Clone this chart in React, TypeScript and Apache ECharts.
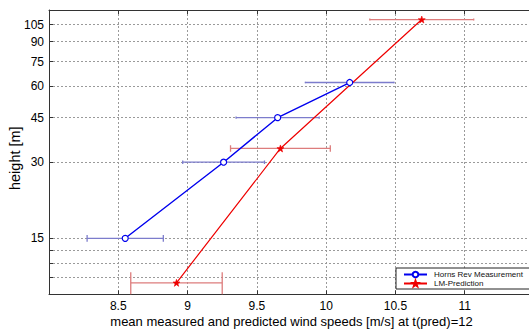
import React, { useEffect, useRef } from "react";
import * as echarts from "echarts";

// ---- data ----
const measName = "Horns Rev Measurement";
const measHeights = [15, 30, 45, 62];
const measSpeed = [8.55, 9.26, 9.65, 10.17];
const measErr = [0.275, 0.295, 0.3, 0.32];

const predName = "LM-Prediction";
const predHeights = [10, 34, 110];
const predSpeed = [8.92, 9.67, 10.69];
const predErr = [0.33, 0.36, 0.375];

const yTickLabels = [15, 30, 45, 60, 75, 90, 105];
const yMinorTicks = [10.5, 12, 13.5];
const yMin = 9;
const yMax = 120;
const xMin = 8;
const xMax = 11.5;
const xStep = 0.5;

// ---- styles ----
const FONT = "Liberation Sans, Arial, Helvetica, sans-serif";
const BLUE = "#0000ee";
const RED = "#ee0000";
const BLUE_ERR = "#7c7ccc";
const RED_ERR = "#dd7c7c";
const STAR =
  "path://M0,-10 L2.35,-3.24 L9.51,-3.09 L3.8,1.24 L5.88,8.09 L0,4 L-5.88,8.09 L-3.8,1.24 L-9.51,-3.09 L-2.35,-3.24 Z";

function errorSeries(speeds: number[], errs: number[], heights: number[], color: string) {
  const tee = (Math.max(...heights) - Math.min(...heights)) / 100;
  const data = speeds.map((s, i) => [
    s - errs[i],
    s + errs[i],
    Math.log(heights[i]),
    Math.log(heights[i] - tee),
    Math.log(heights[i] + tee),
  ]);
  return {
    type: "custom",
    silent: true,
    clip: true,
    z: 1,
    encode: { x: [0, 1], y: [2, 3, 4] },
    data,
    renderItem: (_params: any, api: any) => {
      const lo = api.coord([api.value(0), api.value(2)]);
      const hi = api.coord([api.value(1), api.value(2)]);
      const loB = api.coord([api.value(0), api.value(3)]);
      const loT = api.coord([api.value(0), api.value(4)]);
      const hiB = api.coord([api.value(1), api.value(3)]);
      const hiT = api.coord([api.value(1), api.value(4)]);
      const style = { stroke: color, lineWidth: 1.3 };
      return {
        type: "group",
        children: [
          { type: "line", shape: { x1: lo[0], y1: lo[1], x2: hi[0], y2: hi[1] }, style },
          { type: "line", shape: { x1: loB[0], y1: loB[1], x2: loT[0], y2: loT[1] }, style },
          { type: "line", shape: { x1: hiB[0], y1: hiB[1], x2: hiT[0], y2: hiT[1] }, style },
        ],
      };
    },
  };
}

export default function App() {
  const ref = useRef<HTMLDivElement>(null);
  useEffect(() => {
    if (!ref.current) return;
    const chart = echarts.init(ref.current, null, { renderer: "svg" });
    const splitLine = { show: true, lineStyle: { color: "#9a9a9a", type: [2, 2], width: 1 } };
    const axisLine = { show: true, lineStyle: { color: "#333", width: 1 } };
    chart.setOption({
      animation: false,
      backgroundColor: "#fff",
      textStyle: { fontFamily: FONT },
      grid: { left: 49, top: 10, width: 485, height: 284.4, containLabel: false, outerBoundsMode: "none" },
      legend: {
        left: 396,
        top: 268,
        orient: "vertical",
        data: [measName, predName],
        backgroundColor: "#fff",
        borderColor: "#222",
        borderWidth: 1,
        borderRadius: 0,
        padding: [2, 7, 1, 7],
        itemGap: 0,
        itemWidth: 23,
        itemHeight: 7,
        textStyle: { fontSize: 8, lineHeight: 9, color: "#111", fontFamily: FONT, padding: [0, 0, 0, 2] },
      },
      xAxis: [
        {
          type: "value",
          min: xMin,
          max: xMax,
          interval: xStep,
          name: "mean measured and predicted wind speeds [m/s] at t(pred)=12",
          nameLocation: "middle",
          nameGap: 21,
          nameMoveOverlap: false,
          nameTextStyle: { fontSize: 13, color: "#000", fontFamily: FONT },
          axisLine,
          axisTick: { show: true, inside: true, length: 4, lineStyle: { color: "#333" } },
          axisLabel: {
            fontSize: 12,
            color: "#000",
            margin: 6,
            fontFamily: FONT,
            formatter: (v: number) => (v === xMin || v === xMax ? "" : String(v)),
          },
          splitLine,
        },
        {
          type: "value",
          position: "top",
          min: xMin,
          max: xMax,
          interval: xStep,
          axisLine,
          axisTick: { show: true, inside: true, length: 4, lineStyle: { color: "#333" } },
          axisLabel: { show: false },
          splitLine: { show: false },
        },
      ],
      yAxis: {
        type: "value",
        min: Math.log(yMin),
        max: Math.log(yMax),
        name: "height [m]",
        nameLocation: "middle",
        nameGap: 27,
        nameMoveOverlap: false,
        nameTextStyle: { fontSize: 14.5, color: "#000", fontFamily: FONT, padding: [0, 12, 0, 0] },
        axisLine,
        axisTick: {
          show: true,
          inside: true,
          length: 4,
          lineStyle: { color: "#333" },
          customValues: [...yMinorTicks, ...yTickLabels].map((v) => Math.log(v)),
        },
        axisLabel: {
          fontSize: 12,
          color: "#000",
          margin: 5,
          fontFamily: FONT,
          customValues: yTickLabels.map((v) => Math.log(v)),
          formatter: (v: number) => String(Math.round(Math.exp(v))),
        },
        splitLine,
      },
      series: [
        errorSeries(measSpeed, measErr, measHeights, BLUE_ERR),
        errorSeries(predSpeed, predErr, predHeights, RED_ERR),
        {
          type: "line",
          name: measName,
          z: 3,
          data: measSpeed.map((s, i) => [s, Math.log(measHeights[i])]),
          lineStyle: { color: BLUE, width: 1.4 },
          itemStyle: { color: "#fff", borderColor: BLUE, borderWidth: 1.2 },
          symbol: "circle",
          symbolSize: 6,
        },
        {
          type: "line",
          name: predName,
          z: 3,
          data: predSpeed.map((s, i) => [s, Math.log(predHeights[i])]),
          lineStyle: { color: RED, width: 1.2 },
          itemStyle: { color: RED, borderColor: RED, borderWidth: 0.6 },
          symbol: STAR,
          symbolSize: 7,
        },
      ],
    });
    return () => chart.dispose();
  }, []);
  return (
    <div
      ref={ref}
      style={{ position: "fixed", left: 0, top: 0, width: 540, height: 332, background: "#fff" }}
    />
  );
}
